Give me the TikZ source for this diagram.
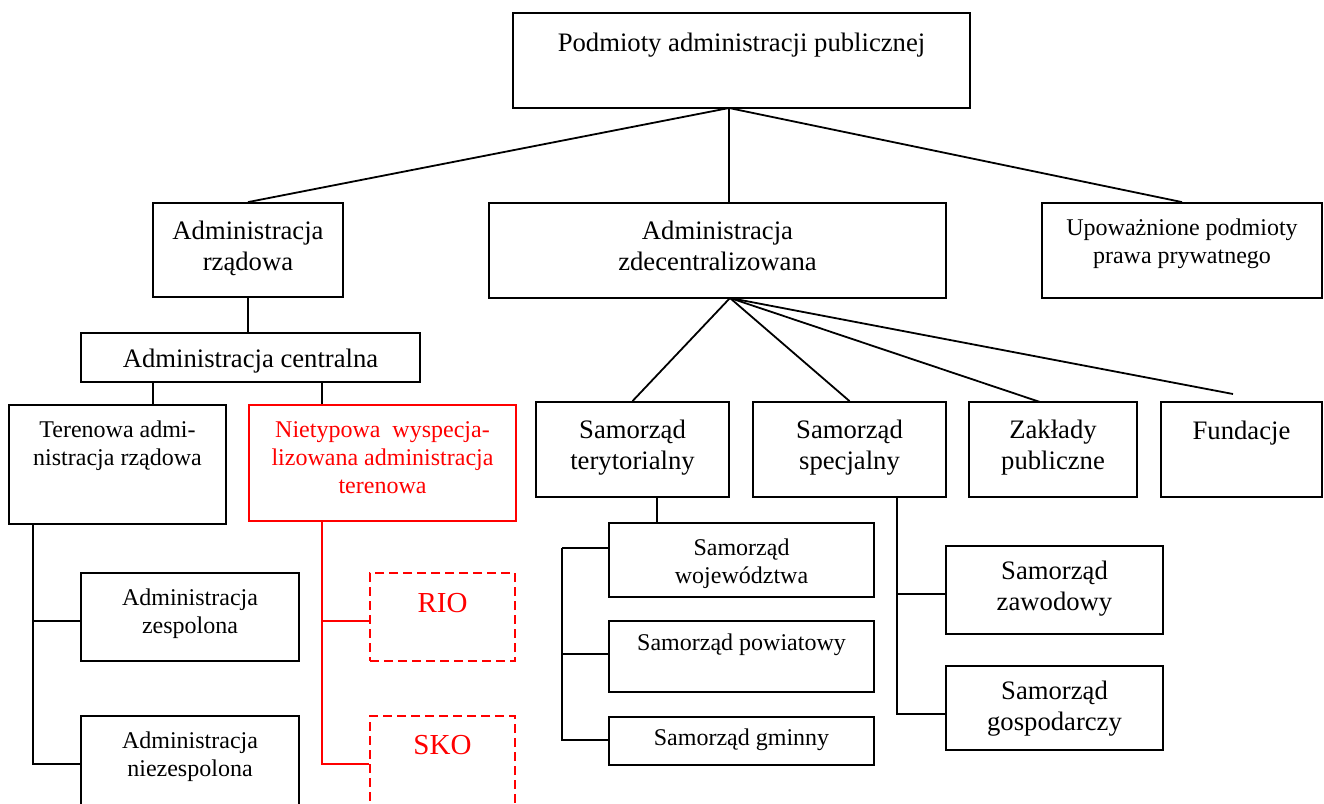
\documentclass[tikz,border=0pt]{standalone}
\usepackage{fontspec}
\setmainfont{Liberation Serif}
\usetikzlibrary{positioning}

\tikzset{
  box/.style={draw, line width=1.8pt, inner sep=0pt},
  redbox/.style={box, draw=red},
  dashbox/.style={redbox, dash pattern=on 9pt off 5pt},
  bigtext/.style={font=\fontsize{26.67}{31}\selectfont, align=center, inner sep=0pt},
  smalltext/.style={font=\fontsize{24}{28}\selectfont, align=center, inner sep=0pt},
  tagtext/.style={font=\fontsize{29}{34}\selectfont, inner sep=0pt, text=red},
  link/.style={line width=1.8pt},
}

% box given by its corners
\newcommand{\orgbox}[6]{%
  \node[#1, minimum width=#5pt-#3pt, minimum height=#6pt-#4pt] (#2) at ({(#3+#5)/2},{(#4+#6)/2}) {};}

\begin{document}
\begin{tikzpicture}[x=1pt, y=-1pt]
  \useasboundingbox (0,0) rectangle (1324,803);
  \clip (0,0) rectangle (1324,803);

  % boxes
  \orgbox{box}{root}{513}{13}{970}{108}
  \orgbox{box}{rzad}{153}{203}{343}{297}
  \orgbox{box}{zdec}{489}{203}{946}{298}
  \orgbox{box}{upow}{1042}{203}{1322}{298}
  \orgbox{box}{cent}{81}{333}{420}{382}
  \orgbox{box}{teren}{9}{405}{226}{524}
  \orgbox{redbox}{niet}{249}{405}{516}{521}
  \orgbox{box}{zesp}{81}{573}{299}{661}
  \orgbox{box}{niezesp}{81}{716}{299}{840}
  \orgbox{dashbox}{rio}{370}{573}{515}{661}
  \orgbox{dashbox}{sko}{370}{716}{515}{840}
  \orgbox{box}{teryt}{536}{402}{729}{497}
  \orgbox{box}{spec}{753}{402}{946}{497}
  \orgbox{box}{zakl}{969}{402}{1137}{497}
  \orgbox{box}{fund}{1161}{402}{1322}{497}
  \orgbox{box}{woj}{609}{523}{874}{597}
  \orgbox{box}{pow}{609}{621}{874}{692}
  \orgbox{box}{gmin}{609}{717}{874}{765}
  \orgbox{box}{zaw}{946}{546}{1163}{634}
  \orgbox{box}{gosp}{946}{666}{1163}{750}

  % texts
  \node[bigtext, below=21pt of root.north] (troot) {Podmioty administracji publicznej};
  \node[bigtext, below=19pt of rzad.north] (trzad) {Administracja\\rządowa};
  \node[bigtext, below=19pt of zdec.north] (tzdec) {Administracja\\zdecentralizowana};
  \node[smalltext, below=17pt of upow.north] (tupow) {Upoważnione podmioty\\prawa prywatnego};
  \node[bigtext, below=17pt of cent.north] (tcent) {Administracja centralna};
  \node[smalltext, below=17pt of teren.north] (tteren) {Terenowa admi-\\nistracja rządowa};
  \node[smalltext, text=red, below=17.5pt of niet.north] (tniet) {Nietypowa\ \ wyspecja-\\lizowana administracja\\terenowa};
  \node[smalltext, below=17pt of zesp.north] (tzesp) {Administracja\\zespolona};
  \node[smalltext, below=17pt of niezesp.north] (tniezesp) {Administracja\\niezespolona};
  \node[tagtext, below=20.5pt of rio.north] (trio) {RIO};
  \node[tagtext, below=19.5pt of sko.north] (tsko) {SKO};
  \node[bigtext, below=18.5pt of teryt.north] (tteryt) {Samorząd\\terytorialny};
  \node[bigtext, below=18.5pt of spec.north] (tspec) {Samorząd\\specjalny};
  \node[bigtext, below=18.5pt of zakl.north] (tzakl) {Zakłady\\publiczne};
  \node[bigtext, below=20pt of fund.north] (tfund) {Fundacje};
  \node[smalltext, below=17pt of woj.north] (twoj) {Samorząd\\województwa};
  \node[smalltext, below=14pt of pow.north] (tpow) {Samorząd powiatowy};
  \node[smalltext, below=13pt of gmin.north] (tgmin) {Samorząd gminny};
  \node[bigtext, below=16pt of zaw.north] (tzaw) {Samorząd\\zawodowy};
  \node[bigtext, below=15.5pt of gosp.north] (tgosp) {Samorząd\\gospodarczy};

  % branch points
  \coordinate (rfan) at (729,108);
  \coordinate (zfan) at (730,298);
  \coordinate (cl) at (153,382);
  \coordinate (cr) at (322,382);
  \coordinate (tt) at (33,524);
  \coordinate (tm) at (33,621);
  \coordinate (tb) at (33,764);
  \coordinate (rt) at (322,521);
  \coordinate (rm) at (322,621);
  \coordinate (rb) at (322,764);
  \coordinate (zk) at (1040,402);
  \coordinate (fd) at (1233,394);
  \coordinate (st) at (657,497);
  \coordinate (bt) at (562,548);
  \coordinate (bm) at (562,654);
  \coordinate (bb) at (562,740);
  \coordinate (pt) at (897,497);
  \coordinate (pm) at (897,594);
  \coordinate (pb) at (897,714);

  % connectors
  \draw[link] (rfan) -- (rzad.north);
  \draw[link] (rfan) -- (rfan |- zdec.north);
  \draw[link] (rfan) -- (upow.north);
  \draw[link] (rzad.south) -- (rzad.south |- cent.north);
  \draw[link] (cl) -- (cl |- teren.north);
  \draw[link] (cr) -- (cr |- niet.north);
  \draw[link] (tt) -- (tb) -- (tb -| niezesp.west);
  \draw[link] (tm) -- (tm -| zesp.west);
  \draw[link, red] (rt) -- (rb) -- (rb -| sko.west);
  \draw[link, red] (rm) -- (rm -| rio.west);
  \draw[link] (zfan) -- (teryt.north);
  \draw[link] (zfan) -- (spec.north);
  \draw[link] (zfan) -- (zk);
  \draw[link] (zfan) -- (fd);
  \draw[link] (st) -- (st |- woj.north);
  \draw[link] (bt) -- (bb) -- (bb -| gmin.west);
  \draw[link] (bt) -- (bt -| woj.west);
  \draw[link] (bm) -- (bm -| pow.west);
  \draw[link] (pt) -- (pb) -- (pb -| gosp.west);
  \draw[link] (pm) -- (pm -| zaw.west);
\end{tikzpicture}
\end{document}
